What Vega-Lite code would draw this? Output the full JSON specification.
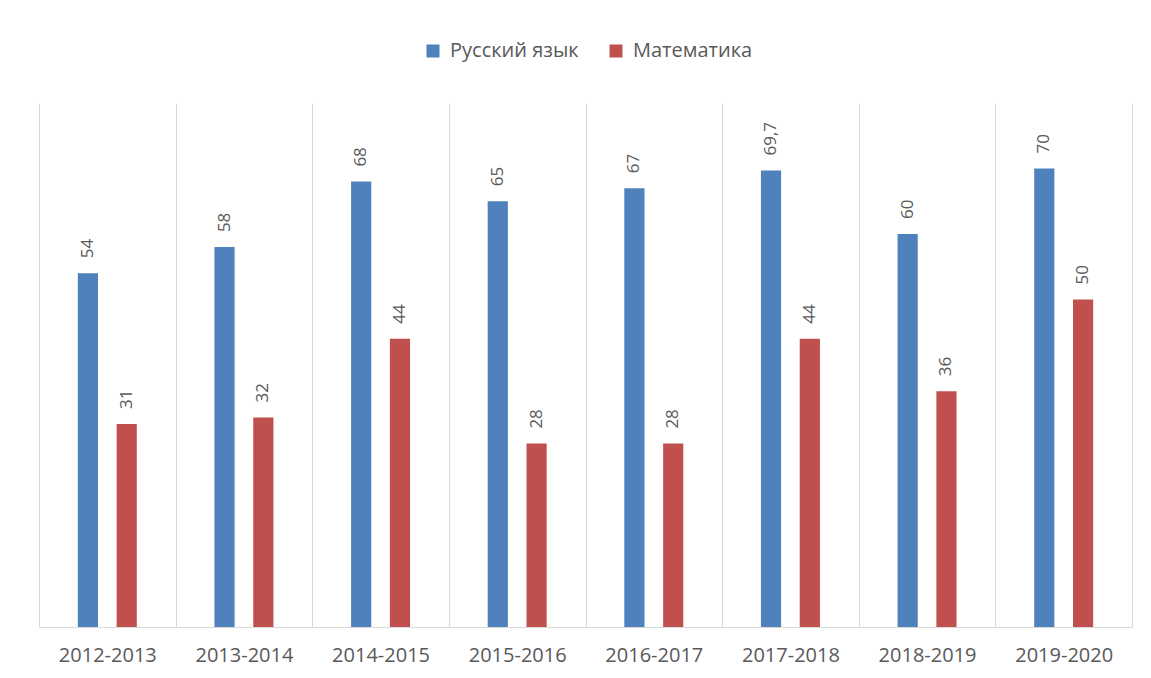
{
  "$schema": "https://vega.github.io/schema/vega-lite/v6.json",
  "width": 1093,
  "height": 524,
  "autosize": {"type": "none"},
  "padding": {"left": 39, "top": 103, "right": 19, "bottom": 51},
  "background": "white",
  "config": {
    "locale": {"number": {"decimal": ",", "thousands": " ", "grouping": [3], "currency": ["", ""]}},
    "view": {"stroke": null},
    "font": "Open Sans"
  },
  "data": {
    "values": [
      {"year": "2012-2013", "subject": "Русский язык", "value": 54},
      {"year": "2012-2013", "subject": "Математика", "value": 31},
      {"year": "2013-2014", "subject": "Русский язык", "value": 58},
      {"year": "2013-2014", "subject": "Математика", "value": 32},
      {"year": "2014-2015", "subject": "Русский язык", "value": 68},
      {"year": "2014-2015", "subject": "Математика", "value": 44},
      {"year": "2015-2016", "subject": "Русский язык", "value": 65},
      {"year": "2015-2016", "subject": "Математика", "value": 28},
      {"year": "2016-2017", "subject": "Русский язык", "value": 67},
      {"year": "2016-2017", "subject": "Математика", "value": 28},
      {"year": "2017-2018", "subject": "Русский язык", "value": 69.7},
      {"year": "2017-2018", "subject": "Математика", "value": 44},
      {"year": "2018-2019", "subject": "Русский язык", "value": 60},
      {"year": "2018-2019", "subject": "Математика", "value": 36},
      {"year": "2019-2020", "subject": "Русский язык", "value": 70},
      {"year": "2019-2020", "subject": "Математика", "value": 50}
    ]
  },
  "encoding": {
    "x": {
      "field": "year",
      "type": "nominal",
      "sort": null,
      "scale": {"paddingInner": 0, "paddingOuter": 0},
      "axis": {
        "title": null,
        "labelAngle": 0,
        "labelFontSize": 20,
        "labelColor": "#595959",
        "labelPadding": 18,
        "ticks": false,
        "tickBand": "extent",
        "domainColor": "#D9D9D9",
        "grid": true,
        "gridColor": "#D9D9D9",
        "gridWidth": 1
      }
    },
    "xOffset": {
      "field": "subject",
      "type": "nominal",
      "sort": ["Русский язык", "Математика"],
      "scale": {"paddingInner": 0.48, "paddingOuter": 1.17}
    },
    "y": {
      "field": "value",
      "type": "quantitative",
      "scale": {"domain": [0, 80]},
      "axis": null
    }
  },
  "layer": [
    {
      "mark": {"type": "bar"},
      "encoding": {
        "color": {
          "field": "subject",
          "type": "nominal",
          "sort": ["Русский язык", "Математика"],
          "scale": {"domain": ["Русский язык", "Математика"], "range": ["#4F81BD", "#C0504D"]},
          "legend": {
            "title": null,
            "orient": "none",
            "legendX": 384,
            "legendY": -62,
            "direction": "horizontal",
            "symbolType": "square",
            "symbolSize": 169,
            "symbolStrokeWidth": 0,
            "labelFontSize": 20,
            "labelColor": "#595959",
            "labelOffset": 7,
            "columnPadding": 27
          }
        }
      }
    },
    {
      "mark": {
        "type": "text",
        "angle": 270,
        "align": "left",
        "baseline": "middle",
        "dx": 15,
        "fontSize": 17,
        "color": "#595959"
      },
      "encoding": {
        "text": {"field": "value", "type": "quantitative", "format": ".4~g"}
      }
    }
  ]
}
